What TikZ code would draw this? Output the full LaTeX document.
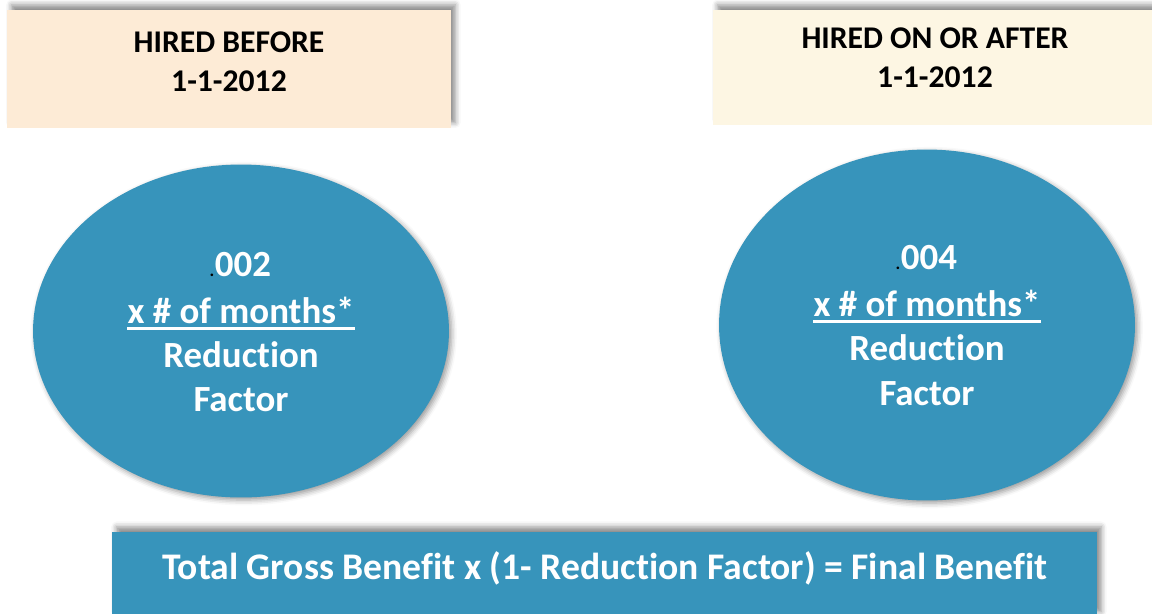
\documentclass[tikz,border=0pt]{standalone}
\usepackage{fontspec}
\setmainfont{Carlito}[RawFeature={-liga;-clig;-calt}]
\usetikzlibrary{shapes.geometric,shadows.blur}
\definecolor{peach}{HTML}{FDEBD6}
\definecolor{cream}{HTML}{FDF6E3}
\definecolor{tealblue}{HTML}{3794BB}

\begin{document}
\begin{tikzpicture}[x=0.02cm,y=-0.02cm,
  boxshadow/.style={blur shadow={shadow xshift=2.5pt,shadow yshift=3pt,shadow blur radius=3pt,shadow opacity=45}},
  headbox/.style={rectangle, boxshadow, inner sep=0pt},
  headtext/.style={align=center, font=\bfseries\fontsize{18}{22}\selectfont},
  oval/.style={ellipse, fill=tealblue, inner sep=0pt,
    blur shadow={shadow xshift=1.5pt,shadow yshift=-1.5pt,shadow blur radius=3pt,shadow opacity=40}},
  ovaltext/.style={text=white, inner sep=0pt, font=\bfseries\fontsize{21}{25.8}\selectfont},
  dotblack/.style={text=black, inner sep=0pt, font=\bfseries\fontsize{10}{12}\selectfont}
]
\useasboundingbox (0,0) rectangle (1152,613);
% header boxes
\node[headbox, fill=peach, minimum width=8.88cm, minimum height=2.36cm] (lbox) at (229,69) {};
\node[headtext] (lhead) at (229,62) {HIRED BEFORE\\1-1-2012};
\node[headbox, fill=cream, minimum width=8.78cm, minimum height=2.3cm] (rbox) at (932.5,67.5) {};
\node[headtext] (rhead) at (935,58) {HIRED ON OR AFTER\\1-1-2012};
% ellipses
\node[oval, minimum width=8.32cm, minimum height=6.66cm] (loval) at (241,331) {};
\node[ovaltext] (lrate) at (243,265) {002};
\node[dotblack, anchor=base east] (ldot) at (lrate.base west) {.};
\node[ovaltext] (lmonths) at (241,310) {x \# of months*};
\node[ovaltext] (lred) at (241,355) {Reduction};
\node[ovaltext] (lfac) at (241,400) {Factor};
\draw[white, line width=1.7pt] ([yshift=-3pt]lmonths.base west) -- ([yshift=-3pt]lmonths.base east);
\node[oval, minimum width=8.32cm, minimum height=7.02cm] (roval) at (927,325) {};
\node[ovaltext] (rrate) at (929,258) {004};
\node[dotblack, anchor=base east] (rdot) at (rrate.base west) {.};
\node[ovaltext] (rmonths) at (927,303) {x \# of months*};
\node[ovaltext] (rred) at (927,348) {Reduction};
\node[ovaltext] (rfac) at (927,394) {Factor};
\draw[white, line width=1.7pt] ([yshift=-3pt]rmonths.base west) -- ([yshift=-3pt]rmonths.base east);
% formula box
\node[rectangle, fill=tealblue, boxshadow, minimum width=19.7cm, minimum height=1.7cm, inner sep=0pt] (fbox) at (604.5,574.5) {};
\node[text=white, font=\bfseries\fontsize{21.4}{24}\selectfont] (formula) at (605,568) {Total Gross Benefit x (1- Reduction Factor) = Final Benefit};
\end{tikzpicture}
\end{document}
